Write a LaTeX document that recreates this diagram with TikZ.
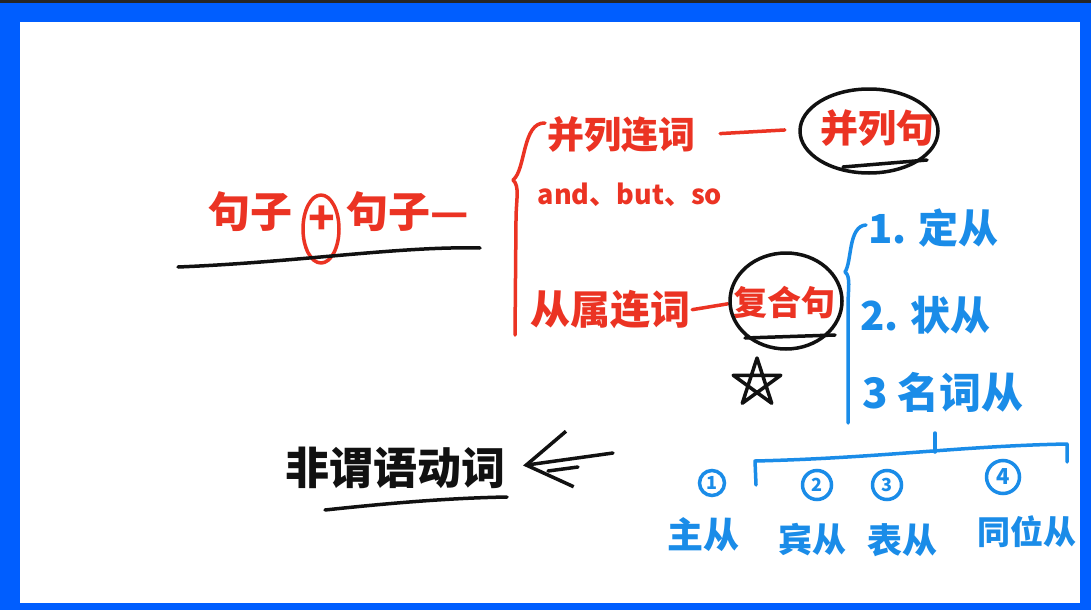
\documentclass[tikz,border=0pt]{standalone}
\usepackage{fontspec}
\usepackage{tikz}
\usetikzlibrary{arrows.meta,positioning,shapes.geometric,calc}
\newfontfamily\cjk{Noto Sans CJK SC}
\definecolor{frame}   {HTML}{005EFF}
\definecolor{redink}  {HTML}{EB3323}
\definecolor{blueink} {HTML}{1A8CE8}
\definecolor{ink}     {HTML}{111111}
\tikzset{
  redtxt/.style  ={text=redink, font=\cjk\bfseries\fontsize{38}{42}\selectfont, inner sep=0pt},
  bluetxt/.style ={text=blueink, font=\cjk\bfseries\fontsize{40}{44}\selectfont, inner sep=0pt},
  inktxt/.style  ={text=ink, font=\cjk\bfseries\fontsize{44}{48}\selectfont, inner sep=0pt},
  redpen/.style  ={draw=redink, line width=3.5pt, line cap=round, line join=round},
  bluepen/.style ={draw=blueink, line width=3.5pt, line cap=round, line join=round},
  inkpen/.style  ={draw=ink, line width=3.5pt, line cap=round, line join=round},
  ring/.style    ={ellipse, draw=ink, line width=3.5pt, inner sep=0pt},
  numring/.style ={circle, draw=blueink, line width=3.5pt, text=blueink,
                   font=\cjk\bfseries\fontsize{18}{18}\selectfont, inner sep=0pt},
  arr/.style     ={-{Straight Barb[length=44pt,width=56pt]}, inkpen},
}

\begin{document}
\begin{tikzpicture}[x=1pt,y=-1pt]
  % board
  \fill[frame] (0,0) rectangle (1091,610);
  \fill[black!85] (0,0) rectangle (1091,3);
  \fill[white] (20,22) rectangle (1080,603);
  \useasboundingbox (0,0) rectangle (1091,610);

  % sentence + sentence
  \node[redtxt,font=\cjk\bfseries\fontsize{42}{46}\selectfont] (s1) at (250,212) {句子};
  \node[redtxt,font=\cjk\bfseries\fontsize{44}{46}\selectfont] (plus) at (322,220) {+};
  \node[redtxt,font=\cjk\bfseries\fontsize{42}{46}\selectfont,anchor=west] (s2) at (346,212) {句子—};
  \draw[redpen] (321,229) ellipse [x radius=18, y radius=34];
  \draw[inkpen] (178,267) .. controls (300,262) and (400,246) .. (480,248);

  % red brace
  \draw[redpen] (545,123) .. controls (522,122) and (526,170) .. (513,180)
    .. controls (520,186) and (516,200) .. (516,220) -- (515,335);

  \node[redtxt,font=\cjk\bfseries\fontsize{37}{41}\selectfont] (cc) at (621,135) {并列连词};
  \node[redtxt] (cs) at (877,128) {并列句};
  \draw[redpen,shorten <=25pt,shorten >=35pt] (cc.east) -- (cs.west);
  \node[ring,minimum width=138pt,minimum height=84pt] (r1) at (869,131) {};
  \draw[inkpen] (843,167) -- (927,160);

  \node[redtxt,font=\cjk\bfseries\fontsize{27}{30}\selectfont] (ab) at (630,195) {and、but、so};

  \node[redtxt,font=\cjk\bfseries\fontsize{40}{44}\selectfont] (sc) at (610,310) {从属连词};
  \node[redtxt,font=\cjk\bfseries\fontsize{34}{38}\selectfont] (cx) at (784,303) {复合句};
  \draw[redpen,shorten <=2pt,shorten >=5pt] (sc.east) -- (cx.west);
  \node[ring,minimum width=112pt,minimum height=96pt] (r2) at (786,301) {};
  \draw[inkpen] (745,338) -- (835,335);

  % star
  \coordinate (star) at (757,383);
  \foreach \k in {0,...,4}
    \coordinate (st\k) at ($(star)+(90+144*\k:25pt)$);
  \draw[inkpen] (st0) -- (st1) -- (st2) -- (st3) -- (st4) -- cycle;

  % blue brace
  \draw[bluepen] (866,225) .. controls (848,226) and (852,262) .. (845,272)
    .. controls (851,276) and (848,290) .. (848,305) -- (848,423);

  \node[bluetxt,anchor=west] (d1) at (868,228) {1. 定从};
  \node[bluetxt,anchor=west] (d2) at (860,315) {2. 状从};
  \node[bluetxt,anchor=west,font=\cjk\bfseries\fontsize{42}{46}\selectfont] (d3) at (862,392) {3 名词从};

  % noun clauses
  \draw[bluepen] (935,433) -- (935,452);
  \draw[bluepen] (756,485) -- (755,461) .. controls (880,458) and (960,446) .. (1067,444) -- (1067,462);

  \node[numring,minimum size=25pt] (k1) at (712,483) {1};
  \node[numring,minimum size=29pt] (k2) at (817,485) {2};
  \node[numring,minimum size=29pt] (k3) at (887,485) {3};
  \node[numring,minimum size=33pt,font=\cjk\bfseries\fontsize{22}{22}\selectfont] (k4) at (1003,477) {4};

  \node[bluetxt,font=\cjk\bfseries\fontsize{36}{40}\selectfont] (l1) at (703,535) {主从};
  \node[bluetxt,font=\cjk\bfseries\fontsize{34}{38}\selectfont] (l2) at (812,540) {宾从};
  \node[bluetxt,font=\cjk\bfseries\fontsize{35}{38}\selectfont] (l3) at (902,540) {表从};
  \node[bluetxt,font=\cjk\bfseries\fontsize{33}{36}\selectfont] (l4) at (1027,532) {同位从};

  % non-finite verbs
  \node[inktxt] (nf) at (395,468) {非谓语动词};
  \draw[inkpen] (325,510) .. controls (390,503) and (450,498) .. (507,497);
  \coordinate (tail) at (613,453);
  \draw[arr,shorten >=18pt] (tail) -- (nf.east);
  \draw[inkpen] (548,471) -- (578,467);
\end{tikzpicture}
\end{document}
